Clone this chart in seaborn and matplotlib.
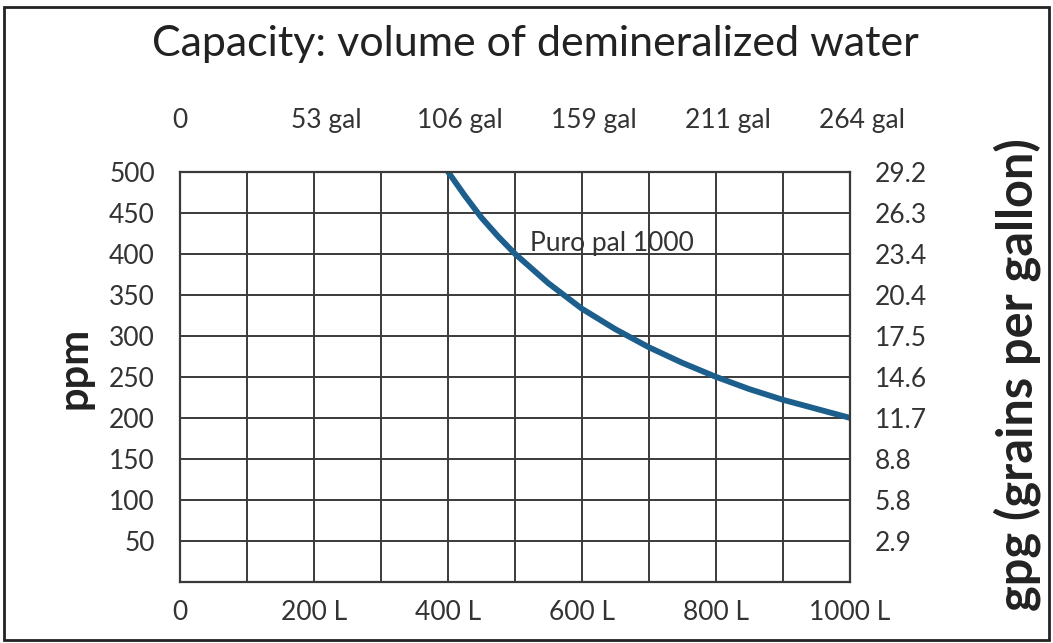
import numpy as np
import pandas as pd
import matplotlib
matplotlib.use("Agg")
import matplotlib.pyplot as plt
import matplotlib.transforms as mtrans
import seaborn as sns
from matplotlib.patches import Rectangle

# Datos
litros = [400, 425, 450, 475, 500, 550, 600, 650, 700, 750, 800, 850, 900, 950, 1000]
ppm = [500, 471, 444, 421, 400, 364, 333, 308, 286, 267, 250, 235, 222, 211, 200]
serie = "Puro pal 1000"

x_ticks = [0, 100, 200, 300, 400, 500, 600, 700, 800, 900, 1000]
x_labels = ["0", "", "200 L", "", "400 L", "", "600 L", "", "800 L", "", "1000 L"]
gal_ticks = [0, 200, 400, 600, 800, 1000]
gal_labels = ["0", "53 gal", "106 gal", "159 gal", "211 gal", "264 gal"]
y_ticks = [0, 50, 100, 150, 200, 250, 300, 350, 400, 450, 500]
y_labels = ["", "50", "100", "150", "200", "250", "300", "350", "400", "450", "500"]
gpg_labels = ["", "2.9", "5.8", "8.8", "11.7", "14.6", "17.5", "20.4", "23.4", "26.3", "29.2"]

df = pd.DataFrame({"litros": litros, "ppm": ppm})

sns.set_style("white")
plt.rcParams["font.family"] = ["Lato", "DejaVu Sans"]

color_txt = "#333333"
color_grid = "#3a3a3a"
color_curva = "#1c5e8c"
tam = 19

fig = plt.figure(figsize=(10.53, 6.43), dpi=100)
ax = fig.add_axes([0.171, 0.095, 0.636, 0.638])

sns.lineplot(data=df, x="litros", y="ppm", ax=ax, color=color_curva, linewidth=4.2)

ax.set_xlim(0, 1000)
ax.set_ylim(0, 500)
ax.set_xticks(x_ticks)
ax.set_xticklabels(x_labels)
ax.set_yticks(y_ticks)
ax.set_yticklabels(y_labels)
ax.tick_params(axis="x", length=0, pad=13, labelsize=tam, labelcolor=color_txt)
ax.tick_params(axis="y", length=0, pad=18, labelsize=tam, labelcolor=color_txt)
ax.grid(True, color=color_grid, linewidth=1.4)
ax.set_axisbelow(True)
for s in ax.spines.values():
    s.set_color(color_grid)
    s.set_linewidth(1.6)
ax.set_xlabel("")
ax.set_ylabel("")

# eje derecho: gpg
ax_r = ax.twinx()
ax_r.set_ylim(0, 500)
ax_r.set_yticks(y_ticks)
ax_r.set_yticklabels(gpg_labels)
ax_r.tick_params(axis="y", length=0, pad=18, labelsize=tam, labelcolor=color_txt)
for s in ax_r.spines.values():
    s.set_visible(False)

# eje superior: galones
ax_t = ax.twiny()
ax_t.set_xlim(0, 1000)
ax_t.set_xticks(gal_ticks)
ax_t.set_xticklabels(gal_labels)
ax_t.tick_params(axis="x", length=0, pad=28, labelsize=tam, labelcolor=color_txt)
for s in ax_t.spines.values():
    s.set_visible(False)
desplaza = mtrans.ScaledTranslation(12 / 100, 0, fig.dpi_scale_trans)
for lab in ax_t.get_xticklabels()[1:]:
    lab.set_transform(lab.get_transform() + desplaza)

ax.text(522, 413, serie, fontsize=19, color=color_txt, va="center", ha="left")

fig.text(0.508, 0.932, "Capacity: volume of demineralized water", fontsize=31,
         color="#222222", ha="center", va="center")
fig.text(0.071, 0.428, "ppm", fontsize=30, fontweight="bold", rotation=90,
         color="#222222", ha="center", va="center")
fig.text(0.966, 0.418, "gpg (grains per gallon)", fontsize=35, fontweight="bold",
         rotation=90, color="#222222", ha="center", va="center")

fig.patches.append(Rectangle((0.004, 0.004), 0.992, 0.985, transform=fig.transFigure,
                             fill=False, edgecolor="#222222", linewidth=2))

fig.savefig("out.png", dpi=100)
